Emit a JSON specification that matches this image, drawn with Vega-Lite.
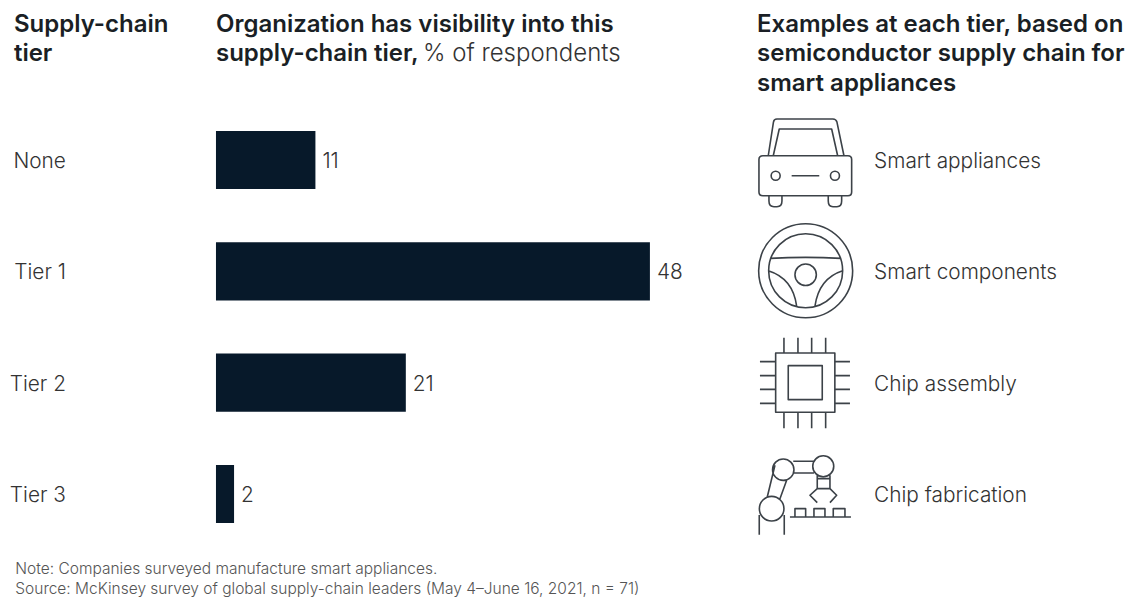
{
  "$schema": "https://vega.github.io/schema/vega-lite/v6.json",
  "width": 1138,
  "height": 599,
  "padding": 0,
  "autosize": {"type": "fit", "contains": "padding"},
  "background": "#ffffff",
  "config": {"view": {"stroke": null}, "text": {"font": "Inter"}},
  "data": {
    "values": [
      {"tier": "None", "share": 11, "example": "Smart appliances"},
      {"tier": "Tier 1", "share": 48, "example": "Smart components"},
      {"tier": "Tier 2", "share": 21, "example": "Chip assembly"},
      {"tier": "Tier 3", "share": 2, "example": "Chip fabrication"}
    ]
  },
  "encoding": {
    "y": {
      "field": "tier",
      "type": "nominal",
      "axis": null,
      "sort": null,
      "scale": {
        "domain": ["None", "Tier 1", "Tier 2", "Tier 3"],
        "range": [104.4, 549.6],
        "paddingInner": 0.478,
        "paddingOuter": 0.239
      }
    }
  },
  "layer": [
    {
      "mark": {"type": "bar", "color": "#07192a"},
      "encoding": {
        "x": {
          "field": "share",
          "type": "quantitative",
          "axis": null,
          "scale": {"domain": [-23.89, 101.99], "range": [0, 1138], "nice": false, "zero": false}
        }
      }
    },
    {
      "mark": {"type": "text", "align": "left", "dx": 7, "dy": 2, "fontSize": 20.8, "fontWeight": 300, "color": "#333333"},
      "encoding": {
        "x": {"field": "share", "type": "quantitative"},
        "text": {"field": "share", "type": "quantitative"}
      }
    },
    {
      "mark": {"type": "text", "align": "right", "dy": 2, "fontSize": 20.8, "fontWeight": 300, "color": "#333333"},
      "encoding": {"x": {"datum": -16.6}, "text": {"field": "tier"}}
    },
    {
      "mark": {"type": "text", "align": "left", "dy": 2, "fontSize": 20.8, "fontWeight": 300, "color": "#333333"},
      "encoding": {"x": {"datum": 72.8}, "text": {"field": "example"}}
    },
    {
      "mark": {"type": "point", "filled": false, "size": 4, "opacity": 1, "stroke": "#3c4248", "strokeWidth": 1.6, "strokeJoin": "round"},
      "encoding": {
        "x": {"datum": 65.15},
        "shape": {
          "field": "tier",
          "type": "nominal",
          "legend": null,
          "scale": {
            "domain": ["None", "Tier 1", "Tier 2", "Tier 3"],
            "range": [
              "M-42,-4.3 L-36.7,-4.3 L-31.5,-38 Q-31,-41 -28,-41 L28,-41 Q31,-41 32,-38 L39,-4.3 L43,-4.3 Q46.7,-4.3 46.7,-0.5 L46.7,32 Q46.7,35.7 43,35.7 L-42,35.7 Q-46,35.7 -46,32 L-46,-0.5 Q-46,-4.3 -42,-4.3 Z M-36.7,-4.3 L39,-4.3 M-31.7,-4.3 L-25.7,-31 L26.7,-31 L32.7,-4.3 M-33.8,15.7 A4.5,4.5 0 1 1 -24.8,15.7 A4.5,4.5 0 1 1 -33.8,15.7 Z M25.5,15.7 A4.5,4.5 0 1 1 34.5,15.7 A4.5,4.5 0 1 1 25.5,15.7 Z M-13.3,15.7 L14.3,15.7 M-36,35.7 L-36,41 Q-36,46.7 -31,46.7 L-28,46.7 Q-23,46.7 -23,41 L-23,35.7 M23.3,35.7 L23.3,41 Q23.3,46.7 28,46.7 L32,46.7 Q36.7,46.7 36.7,41 L36.7,35.7",
              "M-46.3,-0.6 A47,47 0 1 1 47.7,-0.6 A47,47 0 1 1 -46.3,-0.6 Z M-36.3,-0.6 A37,37 0 1 1 37.7,-0.6 A37,37 0 1 1 -36.3,-0.6 Z M-10,3.4 A10.7,10.7 0 1 1 11.4,3.4 A10.7,10.7 0 1 1 -10,3.4 Z M-34.5,-13 Q0.7,-15 35.9,-13 M-36.7,-0.6 Q-12,7 -8.3,34.8 M37.7,-0.6 Q14,7 10,34.8",
              "M-29.3,-29.6 L29.9,-29.6 L29.9,29.6 L-29.3,29.6 Z M-16.7,-17 L17.3,-17 L17.3,17 L-16.7,17 Z M-21,-45 L-21,-29.6 M-7,-45 L-7,-29.6 M6.7,-45 L6.7,-29.6 M20.7,-45 L20.7,-29.6 M-21,29.6 L-21,45.5 M-7,29.6 L-7,45.5 M6.7,29.6 L6.7,45.5 M20.7,29.6 L20.7,45.5 M-45,-21 L-29.3,-21 M-45,-7 L-29.3,-7 M-45,6.7 L-29.3,6.7 M-45,20.7 L-29.3,20.7 M29.9,-21 L45,-21 M29.9,-7 L45,-7 M29.9,6.7 L45,6.7 M29.9,20.7 L45,20.7",
              "M-32.4,-24.3 A10.7,10.7 0 1 1 -11,-24.3 A10.7,10.7 0 1 1 -32.4,-24.3 Z M7.8,-27.7 A10.5,10.5 0 1 1 28.8,-27.7 A10.5,10.5 0 1 1 7.8,-27.7 Z M-45.6,14.7 A12.3,12.3 0 1 1 -21,14.7 A12.3,12.3 0 1 1 -45.6,14.7 Z M-11.7,-32.7 L9,-32.7 M-11.7,-21 L9,-21 M-30,-28.7 L-37.7,3 M-18.3,-13.7 L-25,4.7 M-45.7,21 L-45.7,40.7 M-20.7,21 L-20.7,40.7 M12.3,-18.7 L12.3,-5.3 M25,-18.7 L25,-5.3 M12.3,-15.3 L25,-15.3 M12.3,-5.3 L25,-5.3 M12.3,-5.3 L5,1.3 L12.3,8.7 M25,-5.3 L31.7,1.3 L25,8.7 M-15,23 L46,23 M-10,23 L-10,14.7 L0.7,14.7 L0.7,23 M9,23 L9,14.7 L20,14.7 L20,23 M28.3,23 L28.3,14.7 L40,14.7 L40,23"
            ]
          }
        }
      }
    },
    {
      "data": {"values": [{"label": ["Supply-chain", "tier"]}]},
      "mark": {"type": "text", "align": "left", "baseline": "alphabetic", "dy": -128.5, "fontSize": 24, "fontWeight": 600, "lineHeight": 29.5, "color": "#1a1f25"},
      "encoding": {"x": {"datum": -22.35}, "y": {"datum": "None"}, "text": {"field": "label"}}
    },
    {
      "data": {"values": [{"label": ["Organization has visibility into this", "supply-chain tier,"]}]},
      "mark": {"type": "text", "align": "left", "baseline": "alphabetic", "dy": -128.5, "fontSize": 24, "fontWeight": 600, "lineHeight": 29.5, "color": "#1a1f25"},
      "encoding": {"x": {"datum": 0}, "y": {"datum": "None"}, "text": {"field": "label"}}
    },
    {
      "data": {"values": [{"label": "% of respondents"}]},
      "mark": {"type": "text", "align": "left", "baseline": "alphabetic", "dy": -99, "fontSize": 24, "fontWeight": 300, "color": "#333333"},
      "encoding": {"x": {"datum": 22.9}, "y": {"datum": "None"}, "text": {"field": "label"}}
    },
    {
      "data": {"values": [{"label": ["Examples at each tier, based on", "semiconductor supply chain for", "smart appliances"]}]},
      "mark": {"type": "text", "align": "left", "baseline": "alphabetic", "dy": -128.5, "fontSize": 24, "fontWeight": 600, "lineHeight": 29.5, "color": "#1a1f25"},
      "encoding": {"x": {"datum": 59.85}, "y": {"datum": "None"}, "text": {"field": "label"}}
    },
    {
      "data": {"values": [{"label": ["Note: Companies surveyed manufacture smart appliances.", "Source: McKinsey survey of global supply-chain leaders (May 4–June 16, 2021, n = 71)"]}]},
      "mark": {"type": "text", "align": "left", "baseline": "alphabetic", "dy": 80, "fontSize": 15.5, "fontWeight": 300, "lineHeight": 20, "color": "#555555"},
      "encoding": {"x": {"datum": -22.2}, "y": {"datum": "Tier 3"}, "text": {"field": "label"}}
    }
  ]
}
